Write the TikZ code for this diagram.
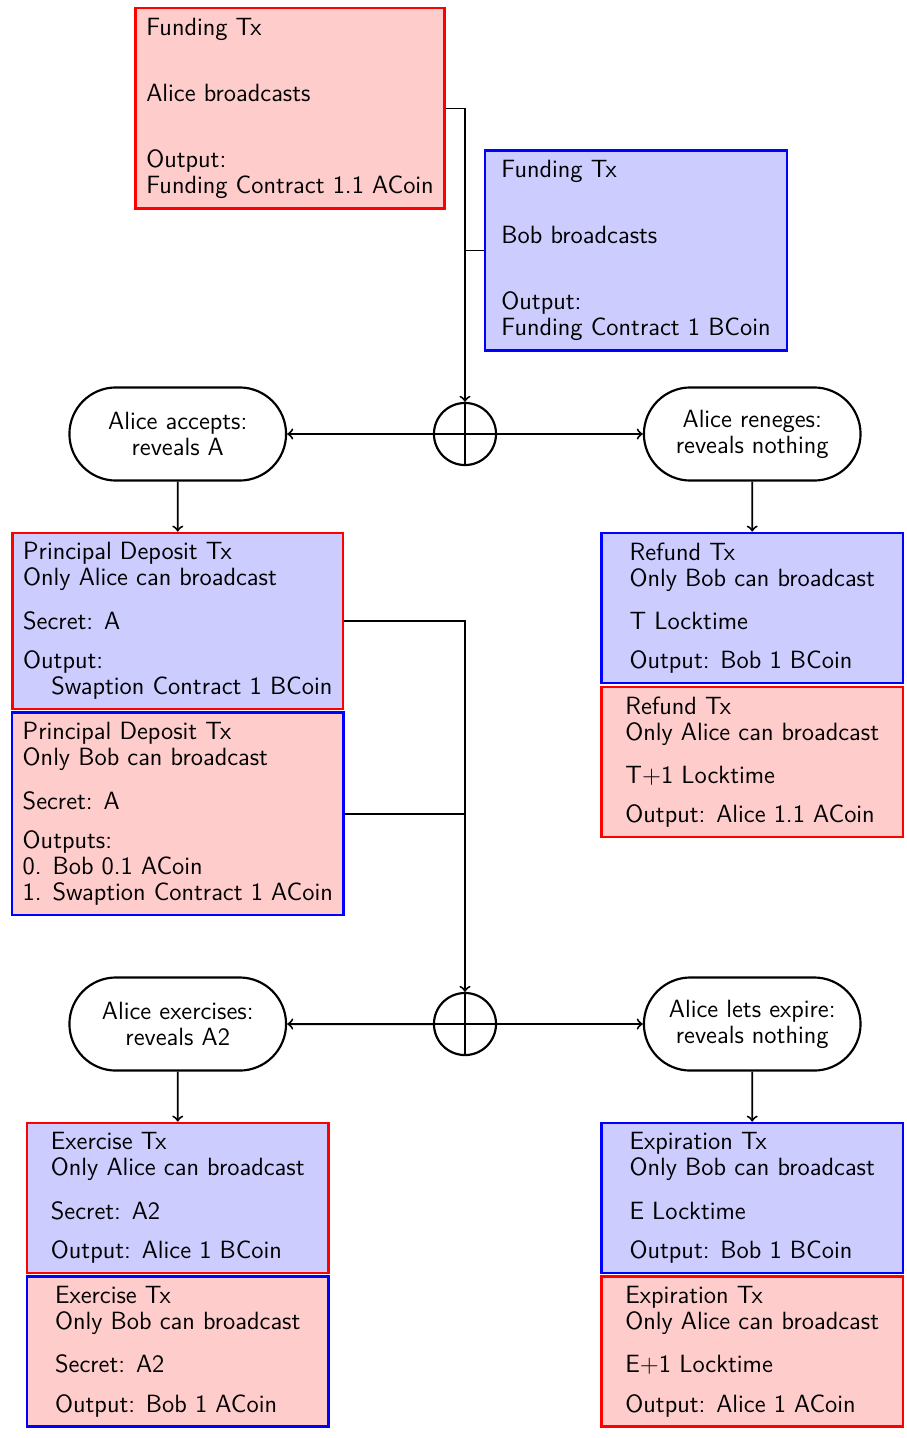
\documentclass[tikz,border=0pt]{standalone}
\usepackage{tikz}
\usetikzlibrary{positioning,shapes.misc}

\begin{document}
\begin{tikzpicture}[
    font=\sffamily\fontsize{11.5pt}{12pt}\selectfont,
    node distance=0.81cm and 2.36cm,
    txbox/.style={rectangle, draw, line width=1.1pt, align=left, inner xsep=5pt, inner ysep=4.5pt, minimum width=139pt},
    choice/.style={rounded rectangle, draw, line width=1pt, align=center, minimum width=106.5pt, minimum height=42.9pt},
    branch/.style={circle, draw, line width=1pt, minimum size=28.6pt, inner sep=0pt,
        path picture={\draw[line width=1pt] (path picture bounding box.north) -- (path picture bounding box.south)
            (path picture bounding box.west) -- (path picture bounding box.east);}},
    link/.style={line width=0.9pt},
    arrow/.style={link, ->}
]
\useasboundingbox (0,0) rectangle (14.674,-23.290);
% Funding
\node[txbox, fill=red!20, draw=red] (fundA) at (4.697,-1.757) {Funding Tx\\[18.5pt] Alice broadcasts\\[18.5pt] Output:\\ Funding Contract 1.1 ACoin};
\node[txbox, fill=blue!20, draw=blue] (fundB) at (10.301,-4.057) {Funding Tx\\[18.5pt] Bob broadcasts\\[18.5pt] Output:\\ Funding Contract 1 BCoin};
% First choice
\node[branch] (op1) at (7.531,-7.029) {};
\node[choice, left=of op1] (accept) {Alice accepts:\\ reveals A};
\node[choice, right=of op1] (renege) {Alice reneges:\\ reveals nothing};
% Principal deposit
\node[txbox, fill=blue!20, draw=red, below=of accept] (depA) {Principal Deposit Tx\\ Only Alice can broadcast\\[8pt] Secret: A\\[6pt] Output:\\ \hspace*{13pt}Swaption Contract 1 BCoin};
\node[txbox, fill=red!20, draw=blue, below=0.5pt of depA] (depB) {Principal Deposit Tx\\ Only Bob can broadcast\\[8pt] Secret: A\\[6pt] Outputs:\\ 0. Bob 0.1 ACoin\\ 1. Swaption Contract 1 ACoin};
% Refund
\node[txbox, fill=blue!20, draw=blue, below=of renege] (refB) {Refund Tx\\ Only Bob can broadcast\\[8pt] T Locktime\\[6pt] Output: Bob 1 BCoin};
\node[txbox, fill=red!20, draw=red, below=0.5pt of refB] (refA) {Refund Tx\\ Only Alice can broadcast\\[8pt] T+1 Locktime\\[6pt] Output: Alice 1.1 ACoin};
% Second choice
\node[branch] (op2) at (7.531,-16.585) {};
\node[choice, left=of op2] (exercise) {Alice exercises:\\ reveals A2};
\node[choice, right=of op2] (expire) {Alice lets expire:\\ reveals nothing};
% Exercise
\node[txbox, fill=blue!20, draw=red, below=of exercise] (exA) {Exercise Tx\\ Only Alice can broadcast\\[8pt] Secret: A2\\[6pt] Output: Alice 1 BCoin};
\node[txbox, fill=red!20, draw=blue, below=0.5pt of exA] (exB) {Exercise Tx\\ Only Bob can broadcast\\[8pt] Secret: A2\\[6pt] Output: Bob 1 ACoin};
% Expiration
\node[txbox, fill=blue!20, draw=blue, below=of expire] (expB) {Expiration Tx\\ Only Bob can broadcast\\[8pt] E Locktime\\[6pt] Output: Bob 1 BCoin};
\node[txbox, fill=red!20, draw=red, below=0.5pt of expB] (expA) {Expiration Tx\\ Only Alice can broadcast\\[8pt] E+1 Locktime\\[6pt] Output: Alice 1 ACoin};
% Arrows
\draw[arrow] (fundA.east) -| (op1.north);
\draw[link] (fundB.west) -- (fundB.west -| op1);
\draw[arrow] (op1) -- (accept);
\draw[arrow] (op1) -- (renege);
\draw[arrow] (accept) -- (depA);
\draw[arrow] (renege) -- (refB);
\draw[arrow] (depA.east) -| (op2.north);
\draw[link] (depB.east) -- (depB.east -| op2);
\draw[arrow] (op2) -- (exercise);
\draw[arrow] (op2) -- (expire);
\draw[arrow] (exercise) -- (exA);
\draw[arrow] (expire) -- (expB);
\end{tikzpicture}
\end{document}
